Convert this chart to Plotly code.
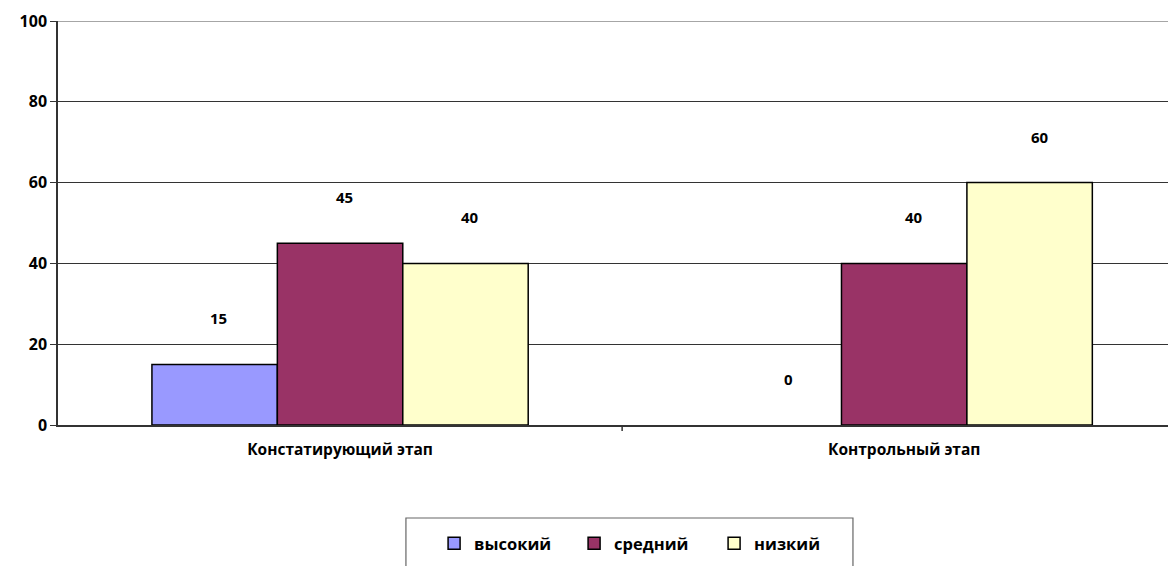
import plotly.graph_objects as go

stages = ["Констатирующий этап", "Контрольный этап"]
levels = ["высокий", "средний", "низкий"]
high = [15, 0]
medium = [45, 40]
low = [40, 60]
y_ticks = [0, 20, 40, 60, 80, 100]

colors = ["#9999FF", "#993366", "#FFFFCC"]
font = "Open Sans"

fig = go.Figure()
series = [high, medium, low]
for name, values, color in zip(levels, series, colors):
    fig.add_trace(go.Bar(
        x=[0, 1], y=values, name=f"<b>{name}</b>",
        marker=dict(color=color,
                    line=dict(color="black", width=[1.5 if v > 0 else 0 for v in values])),
    ))

# data labels sit well above the bars, slightly right of centre, as in the original
bar_px = 125.5
for i, values in enumerate(series):
    for j, v in enumerate(values):
        fig.add_annotation(
            x=j, y=v, text=f"<b>{v}</b>", showarrow=False,
            xshift=(i - 1) * bar_px + 4 + 6 * j, yshift=46,
            font=dict(family=font, size=15, color="black"),
        )

# page body adds 8px offset, so margins are shifted to compensate
fig.update_layout(
    width=1176, height=566,
    margin=dict(l=50, r=0, t=13, b=149),
    paper_bgcolor="white", plot_bgcolor="white",
    barmode="group", bargap=0.333, bargroupgap=0,
    font=dict(family=font, size=14, color="black"),
    showlegend=True,
    legend=dict(
        orientation="h", x=0.334, xanchor="left", y=-0.25, yanchor="top",
        borderwidth=0, entrywidth=95, bgcolor="rgba(0,0,0,0)",
        font=dict(family=font, size=16.5, color="black"),
        traceorder="normal",
    ),
)
fig.update_xaxes(
    tickvals=[0, 1], ticktext=[f"<b>{s}</b>" for s in stages],
    range=[-0.5, 1.496], showline=True, linecolor="#333333", linewidth=1.5,
    showgrid=False, zeroline=False, automargin=False,
    ticks="outside", ticklen=10, tickcolor="rgba(0,0,0,0)",
    tickfont=dict(family=font, size=15.5),
)
fig.update_yaxes(
    range=[0, 100], tickvals=y_ticks, ticktext=[f"<b>{t}</b>" for t in y_ticks],
    showline=True, linecolor="#333333", linewidth=1.5, automargin=False,
    ticks="outside", ticklen=6, tickcolor="#333333",
    showgrid=True, gridcolor="#333333", gridwidth=1, zeroline=False,
    tickfont=dict(family=font, size=16),
)
# boundary tick between categories
fig.add_shape(type="line", xref="x", yref="paper", x0=0.5, x1=0.5, y0=0, y1=-0.015,
              line=dict(color="#333333", width=1.5))
fig.add_shape(type="line", xref="x", yref="y", x0=-0.5, x1=1.496, y0=100, y1=100,
              line=dict(color="#888888", width=1.5))
# legend frame, cut off by the bottom edge like in the original
fig.add_shape(type="rect", xref="paper", yref="paper", x0=0.309, x1=0.706, y0=-0.2302, y1=-0.4,
              line=dict(color="#666666", width=1.2), layer="below")

fig.write_html("out.html")
